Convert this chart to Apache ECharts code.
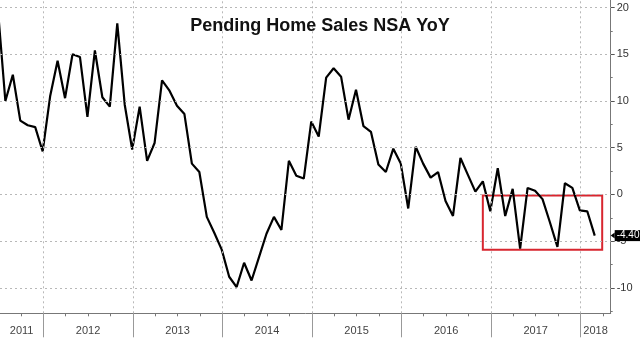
<!DOCTYPE html>
<html>
<head>
<meta charset="utf-8">
<script src="https://cdn.jsdelivr.net/npm/echarts@6/dist/echarts.min.js"></script>
<style>
  html, body { margin: 0; padding: 0; background: #fff; }
  #chart { width: 640px; height: 338px; }
</style>
</head>
<body>
<div id="chart"></div>
<script>
// Pending home sales, not seasonally adjusted, % change year over year (monthly)
const firstMonth = [2011, 6];
const yoy = [
  19.8, 10.0, 12.8, 7.9, 7.4, 7.2, 4.6,                               // 2011 Jun-Dec
  10.5, 14.3, 10.3, 15.0, 14.7, 8.3, 15.4, 10.4, 9.4, 18.3, 9.6, 4.8, // 2012
  9.4, 3.6, 5.5, 12.2, 11.1, 9.5, 8.6, 3.3, 2.4, -2.4, -4.1, -5.9,    // 2013
  -8.8, -9.9, -7.3, -9.2, -6.7, -4.2, -2.4, -3.8, 3.6, 2.0, 1.7, 7.8, // 2014
  6.2, 12.5, 13.5, 12.6, 8.0, 11.2, 7.3, 6.7, 3.2, 2.4, 4.9, 3.3,     // 2015
  -1.5, 5.1, 3.3, 1.8, 2.4, -0.7, -2.3, 3.9, 2.1, 0.3, 1.4, -1.8,     // 2016
  2.8, -2.3, 0.6, -5.8, 0.7, 0.4, -0.5, -3.0, -5.6, 1.2, 0.7, -1.7,   // 2017
  -1.8, -4.4                                                          // 2018 Jan-Feb
];
const years = ['2011', '2012', '2013', '2014', '2015', '2016', '2017', '2018'];
const yTicks = [-10, -5, 0, 5, 10, 15, 20];
const yMinorTicks = [-12.5, -7.5, -2.5, 2.5, 7.5, 12.5, 17.5];

// Highlighted recent stretch
const highlightFrom = [2016, 11];
const highlightTo = [2018, 3];
const highlightRange = [-5.9, -0.1];

// x is measured in months since Jan 2011; each observation sits at its month end
const baseYear = 2011;
const xMin = 6.2, xMax = 88.06;
const yMin = -12.71, yMax = 20.8;
const pos = (y, m) => (y - baseYear) * 12 + m - 0.08;

const points = yoy.map((v, i) => {
  const k = (firstMonth[0] - baseYear) * 12 + (firstMonth[1] - 1) + i;
  return [pos(baseYear + Math.floor(k / 12), (k % 12) + 1), v];
});
const last = yoy[yoy.length - 1];

const yearStarts = years.slice(1).map(y => (Number(y) - baseYear) * 12);
const quarterStarts = [];
for (let q = 0; q <= xMax; q += 3) if (q > xMin && q % 12 !== 0) quarterStarts.push(q);
const yearMids = years.map(y => {
  const a = Math.max((Number(y) - baseYear) * 12, xMin);
  const b = Math.min((Number(y) - baseYear + 1) * 12, xMax);
  return (a + b) / 2;
});

const gridStyle = { color: '#b8b8b8', width: 1, type: [2, 3] };

const chart = echarts.init(document.getElementById('chart'), null, { renderer: 'canvas' });
chart.setOption({
  animation: false,
  backgroundColor: '#fff',
  title: {
    text: 'Pending Home Sales NSA YoY',
    left: 'center',
    top: 12,
    textStyle: { fontFamily: 'Liberation Sans', fontWeight: 'bold', fontSize: 18, color: '#111' }
  },
  grid: { left: 0, right: 29.3, top: 0, bottom: 24.7, containLabel: false },
  xAxis: [
    {
      type: 'value', min: xMin, max: xMax, position: 'bottom',
      axisLine: { show: true, onZero: false, lineStyle: { color: '#777', width: 1 } },
      axisTick: { show: true, customValues: yearStarts, length: 24, lineStyle: { color: '#999' } },
      axisLabel: {
        customValues: yearMids, margin: 12,
        formatter: v => String(baseYear + Math.floor(v / 12)),
        fontFamily: 'Liberation Sans Narrow, Liberation Sans', fontSize: 11, color: '#444'
      },
      splitLine: { show: false }
    },
    {
      type: 'value', min: xMin, max: xMax, position: 'bottom',
      axisLine: { show: false, onZero: false },
      axisTick: { show: true, customValues: quarterStarts, length: 3, lineStyle: { color: '#777' } },
      axisLabel: { show: false },
      splitLine: { show: false }
    }
  ],
  yAxis: [
    {
      type: 'value', min: yMin, max: yMax, position: 'right',
      axisLine: { show: true, onZero: false, lineStyle: { color: '#777', width: 1 } },
      axisTick: { show: true, customValues: yTicks, length: 4, lineStyle: { color: '#555' } },
      axisLabel: {
        customValues: yTicks, margin: 6,
        fontFamily: 'Liberation Sans', fontSize: 11, color: '#333'
      },
      splitLine: { show: false }
    },
    {
      type: 'value', min: yMin, max: yMax, position: 'right',
      axisLine: { show: false, onZero: false },
      axisTick: { show: true, customValues: yMinorTicks, length: 2, lineStyle: { color: '#777' } },
      axisLabel: { show: false },
      splitLine: { show: false }
    }
  ],
  series: [
    {
      // dotted grid
      type: 'line', data: points, symbol: 'none', silent: true, z: 1,
      lineStyle: { opacity: 0 },
      markLine: {
        silent: true, symbol: 'none', label: { show: false },
        lineStyle: gridStyle,
        data: yTicks.map(v => ({ yAxis: v })).concat(yearStarts.map(v => ({ xAxis: v })))
      }
    },
    {
      name: 'Pending Home Sales NSA YoY',
      type: 'line', data: points, symbol: 'none', z: 3,
      lineStyle: { color: '#000', width: 2.2 },
      markArea: {
        silent: true,
        itemStyle: { color: 'rgba(0,0,0,0)', borderColor: '#d8262f', borderWidth: 2 },
        data: [[
          { coord: [pos(highlightFrom[0], highlightFrom[1]), highlightRange[1]] },
          { coord: [pos(highlightTo[0], highlightTo[1]), highlightRange[0]] }
        ]]
      },
      markPoint: {
        silent: true,
        symbol: 'triangle', symbolRotate: 90, symbolSize: [6, 4], symbolOffset: [2, 0],
        itemStyle: { color: '#000' },
        label: {
          show: true, position: 'right', distance: 0,
          formatter: () => last.toFixed(2),
          backgroundColor: '#000', color: '#fff', padding: [1, 1, 0, 2],
          fontFamily: 'Liberation Sans', fontSize: 10
        },
        data: [{ coord: [xMax, last] }]
      }
    }
  ]
});
</script>
</body>
</html>
